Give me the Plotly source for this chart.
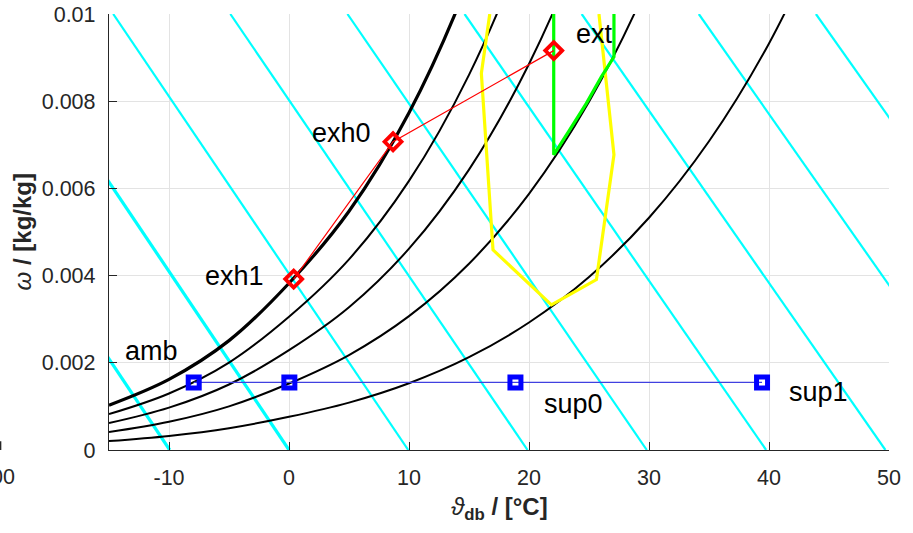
import plotly.graph_objects as go

# ---------------- data ----------------
# relative-humidity curves (dry-bulb temperature grid, humidity ratio)
t_rh100 = [-15, -10, -5, 0, 5, 10, 15, 20]
w_rh100 = [0.0010292, 0.0016208, 0.0025087, 0.0038251, 0.0054754, 0.0077338, 0.010793, 0.014898]
t_rh80 = [-15, -10, -5, 0, 5, 10, 15, 20, 25]
w_rh80 = [0.0008231, 0.0012960, 0.0020053, 0.0030562, 0.0043726, 0.0061716, 0.0086046, 0.011862, 0.016179]
t_rh60 = [-15, -10, -5, 0, 5, 10, 15, 20, 25, 30]
w_rh60 = [0.0006171, 0.0009714, 0.0015027, 0.0022894, 0.0032736, 0.0046174, 0.0064313, 0.0088541, 0.012056, 0.016260]
t_rh40 = [-15, -10, -5, 0, 5, 10, 15, 20, 25, 30, 35]
w_rh40 = [0.0004113, 0.0006473, 0.0010010, 0.0015244, 0.0021786, 0.0030706, 0.0042726, 0.0058749, 0.0079857, 0.010747, 0.014324]
t_rh20 = [-15, -10, -5, 0, 5, 10, 15, 20, 25, 30, 35, 40, 45]
w_rh20 = [0.0002056, 0.0003235, 0.0005001, 0.0007612, 0.0010874, 0.0015316, 0.0021291, 0.0029237, 0.0039674, 0.0053272, 0.0070807, 0.0093247, 0.012169]

# isenthalps: temperature where each meets omega = 0 and omega = 0.01
isenth_t_at_w0 = [-9.94, 0.0, 9.94, 19.88, 29.82, 39.76, 49.70, 59.64, 69.58]
isenth_t_at_w1 = [-34.17, -24.41, -14.65, -4.89, 4.87, 14.63, 24.39, 34.15, 43.91]
isenth_w_limits = [0.0, 0.01]

# comfort zone (yellow)
comfort_t = [16.73, 16.03, 17.0, 21.87, 25.62, 27.08, 25.83]
comfort_w = [0.0100, 0.00864, 0.00459, 0.00333, 0.00391, 0.00677, 0.0100]

# green boundary
green_t = [22.06, 22.06, 23.39, 24.78, 26.03, 27.08, 27.08]
green_w = [0.0100, 0.00677, 0.00734, 0.00795, 0.00856, 0.00902, 0.0100]

# exhaust / extract states (red)
red_names = ["ext", "exh0", "exh1"]
red_t = [22.06, 8.67, 0.39]
red_w = [0.00916, 0.00707, 0.00392]

# ambient / supply states (blue)
blue_names = ["amb", "", "sup0", "sup1"]
blue_t = [-7.94, 0.03, 18.87, 39.42]
blue_w = [0.00155, 0.00155, 0.00155, 0.00155]

x_ticks = [-10, 0, 10, 20, 30, 40, 50]
x_ticklabels = ["-10", "0", "10", "20", "30", "40", "50"]
y_ticks = [0, 0.002, 0.004, 0.006, 0.008, 0.01]
y_ticklabels = ["0", "0.002", "0.004", "0.006", "0.008", "0.01"]

# ---------------- figure ----------------
FONT = "Arial, 'Liberation Sans', Helvetica, sans-serif"
AX = "#262626"
fig = go.Figure()

# isenthalps
for i, (ta, tb) in enumerate(zip(isenth_t_at_w0, isenth_t_at_w1)):
    fig.add_trace(go.Scatter(
        x=[ta, tb], y=isenth_w_limits, mode="lines",
        line=dict(color="#00ffff", width=3.2 if i < 2 else 2.2),
        hoverinfo="skip", showlegend=False))

# RH curves
for tt, ww, lw in [(t_rh20, w_rh20, 2), (t_rh40, w_rh40, 2), (t_rh60, w_rh60, 2),
                   (t_rh80, w_rh80, 2), (t_rh100, w_rh100, 3.2)]:
    fig.add_trace(go.Scatter(x=tt, y=ww, mode="lines",
                             line=dict(color="black", width=lw, shape="spline", smoothing=1.0),
                             hoverinfo="skip", showlegend=False))

# comfort zone
fig.add_trace(go.Scatter(x=comfort_t, y=comfort_w, mode="lines",
                         line=dict(color="#ffff00", width=3.2),
                         hoverinfo="skip", showlegend=False))
# green
fig.add_trace(go.Scatter(x=green_t, y=green_w, mode="lines",
                         line=dict(color="#00ff00", width=3.2),
                         hoverinfo="skip", showlegend=False))

# blue states
fig.add_trace(go.Scatter(x=blue_t, y=blue_w, mode="lines+markers",
                         line=dict(color="#4040e0", width=1.2),
                         marker=dict(symbol="square-open", size=11, color="#0000ff",
                                     line=dict(color="#0000ff", width=5)),
                         showlegend=False))
# red states
fig.add_trace(go.Scatter(x=red_t, y=red_w, mode="lines+markers",
                         line=dict(color="#ff0000", width=1.2),
                         marker=dict(symbol="diamond-open", size=13, color="#ff0000",
                                     line=dict(color="#ff0000", width=3.8)),
                         showlegend=False))

# point labels
label_style = {
    "ext": dict(xanchor="left", xshift=20, yshift=17),
    "exh0": dict(xanchor="right", xshift=-20, yshift=9),
    "exh1": dict(xanchor="right", xshift=-28, yshift=3),
    "amb": dict(xanchor="right", xshift=-14, yshift=31),
    "sup0": dict(xanchor="left", xshift=27, yshift=-22),
    "sup1": dict(xanchor="left", xshift=25, yshift=-10),
}
for names, ts, ws in [(red_names, red_t, red_w), (blue_names, blue_t, blue_w)]:
    for n, t, w in zip(names, ts, ws):
        if not n:
            continue
        st = label_style[n]
        fig.add_annotation(x=t, y=w, xref="x", yref="y", text=n, showarrow=False,
                           xanchor=st["xanchor"], yanchor="middle",
                           xshift=st["xshift"], yshift=st["yshift"],
                           font=dict(family=FONT, size=27, color="black"))

# axis titles
fig.add_annotation(xref="paper", yref="paper", x=0.5, y=-0.135, yanchor="middle",
                   text="<i>ϑ</i><sub><b>db</b></sub><b> / [°C]</b>", showarrow=False,
                   font=dict(family=FONT, size=24, color=AX))
fig.add_annotation(xref="paper", yref="paper", x=-0.111, y=0.5, xanchor="center",
                   text="<i>ω</i><b> / [kg/kg]</b>", textangle=-90, showarrow=False,
                   font=dict(family=FONT, size=24, color=AX))

# clipped neighbour label at far left
fig.add_annotation(xref="paper", yref="paper", x=-0.118, y=-0.062, xanchor="right",
                   yanchor="middle", text="00", showarrow=False,
                   font=dict(family=FONT, size=21.5, color=AX))
fig.add_shape(type="line", xref="paper", yref="paper", x0=-0.139, x1=-0.139, y0=0, y1=0.02,
              line=dict(color=AX, width=1.5))

fig.update_xaxes(range=[-15, 50], tickvals=x_ticks, ticktext=x_ticklabels, ticks="inside",
                 ticklen=8, tickwidth=1.3, automargin=False,
                 tickcolor=AX, showline=True, linecolor=AX, linewidth=1.3,
                 showgrid=True, gridcolor="#e3e3e3", gridwidth=1, zeroline=False,
                 tickfont=dict(family=FONT, size=21.5, color=AX), ticklabelstandoff=8)
fig.update_yaxes(range=[0, 0.01], tickvals=y_ticks, ticktext=y_ticklabels, ticks="inside",
                 ticklen=8, tickwidth=1.3, tickcolor=AX, showline=True, linecolor=AX,
                 linewidth=1.3, showgrid=True, gridcolor="#e3e3e3", gridwidth=1,
                 zeroline=False, tickfont=dict(family=FONT, size=21.5, color=AX),
                 ticklabelstandoff=8, automargin=False)

fig.update_layout(width=913, height=533, margin=dict(l=109, r=24, t=14, b=83),
                  plot_bgcolor="white", paper_bgcolor="white", showlegend=False)

fig.write_html("out.html", config={"displayModeBar": False},
               post_script="document.body.style.margin='0';document.body.style.overflow='hidden';")
